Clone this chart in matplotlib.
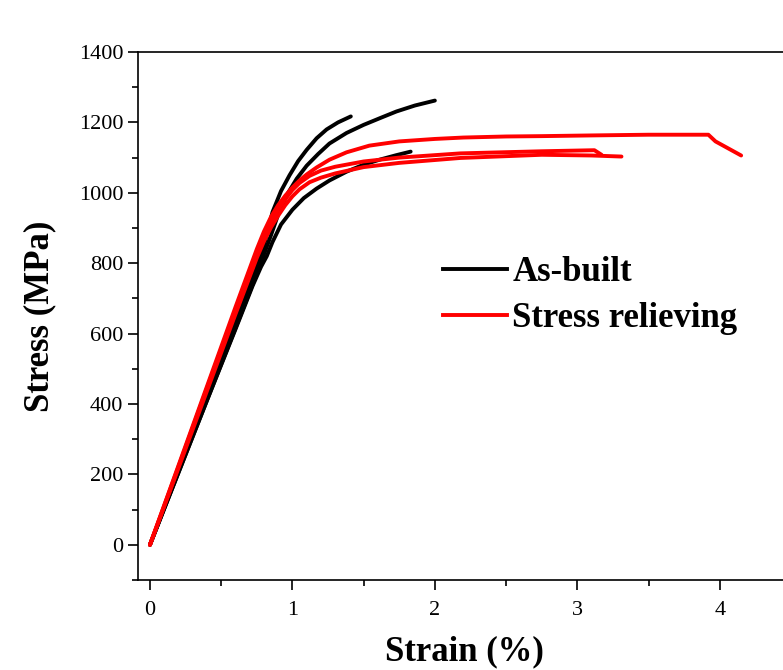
import matplotlib
matplotlib.use('Agg')
import matplotlib.pyplot as plt
from matplotlib.lines import Line2D

plt.rcParams['font.family'] = ['Liberation Serif', 'DejaVu Serif']

# as-built samples
ab1_strain = [0, 0.2, 0.4, 0.6, 0.75, 0.8, 0.86, 0.92, 0.98, 1.04, 1.1, 1.17, 1.24, 1.32, 1.41]
ab1_stress = [0, 210, 420, 630, 790, 850, 945, 1005, 1050, 1090, 1122, 1155, 1180, 1200, 1217]

ab2_strain = [0, 0.2, 0.4, 0.6, 0.75, 0.85, 0.91, 0.97, 1.03, 1.1, 1.18, 1.26, 1.38,
              1.5, 1.62, 1.73, 1.86, 2.0]
ab2_stress = [0, 205, 410, 615, 770, 880, 950, 1000, 1040, 1077, 1110, 1140, 1170,
              1193, 1213, 1231, 1248, 1262]

ab3_strain = [0, 0.2, 0.4, 0.6, 0.72, 0.78, 0.82, 0.86, 0.92, 1.0, 1.08, 1.17, 1.26,
              1.38, 1.5, 1.62, 1.73, 1.83]
ab3_stress = [0, 205, 410, 612, 735, 790, 820, 860, 910, 952, 985, 1012, 1035,
              1060, 1080, 1095, 1107, 1117]

# stress relieved samples
sr1_strain = [0, 0.2, 0.4, 0.6, 0.75, 0.8, 0.85, 0.9, 0.95, 1.0, 1.05, 1.1, 1.17, 1.26,
              1.38, 1.54, 1.75, 2.0, 2.2, 2.5, 2.75, 3.1, 3.5, 3.92, 3.97, 4.15]
sr1_stress = [0, 225, 450, 675, 840, 890, 932, 965, 992, 1015, 1035, 1052, 1072, 1094,
              1115, 1134, 1146, 1153, 1157, 1160, 1161, 1163, 1165, 1165, 1146, 1106]

sr2_strain = [0, 0.2, 0.4, 0.6, 0.75, 0.8, 0.85, 0.9, 0.95, 1.0, 1.05, 1.12, 1.2, 1.3,
              1.5, 1.75, 2.18, 2.75, 3.12, 3.17]
sr2_stress = [0, 222, 445, 665, 830, 878, 918, 952, 982, 1008, 1028, 1048, 1063, 1074,
              1089, 1100, 1112, 1118, 1121, 1108]

sr3_strain = [0, 0.2, 0.4, 0.6, 0.75, 0.8, 0.85, 0.9, 0.95, 1.0, 1.05, 1.12, 1.2, 1.3,
              1.5, 1.75, 2.18, 2.75, 3.1, 3.31]
sr3_stress = [0, 218, 437, 655, 815, 862, 902, 935, 965, 990, 1010, 1030, 1043, 1055,
              1073, 1085, 1099, 1108, 1106, 1103]

x_ticks = [0, 1, 2, 3, 4]
y_ticks = [0, 200, 400, 600, 800, 1000, 1200, 1400]

fig = plt.figure(figsize=(7.83, 6.70), dpi=100)
ax = fig.add_axes([138 / 783, 90 / 670, 653 / 783, 528 / 670])

lw = 2.8
for s, t in [(ab1_strain, ab1_stress), (ab2_strain, ab2_stress), (ab3_strain, ab3_stress)]:
    ax.plot(s, t, color='black', lw=lw, solid_capstyle='round', solid_joinstyle='round')
for s, t in [(sr1_strain, sr1_stress), (sr2_strain, sr2_stress), (sr3_strain, sr3_stress)]:
    ax.plot(s, t, color='#ff0000', lw=lw, solid_capstyle='round', solid_joinstyle='round')

ax.set_xlim(-0.084, 4.5)
ax.set_ylim(-100, 1400)
ax.set_xticks(x_ticks)
ax.set_yticks(y_ticks)
ax.set_xticks([0.5, 1.5, 2.5, 3.5], minor=True)
ax.set_yticks([-100, 100, 300, 500, 700, 900, 1100, 1300], minor=True)
ax.tick_params(which='both', direction='out', width=1.2, labelsize=16, top=False, right=False)
ax.tick_params(which='major', length=7)
ax.tick_params(which='minor', length=4)
ax.tick_params(axis='x', pad=8)
ax.spines['right'].set_visible(False)
for sp in ['left', 'bottom', 'top']:
    ax.spines[sp].set_linewidth(1.2)

ax.set_xlabel('Strain (%)', fontsize=25, fontweight='bold', labelpad=11)
ax.set_ylabel('Stress (MPa)', fontsize=25, fontweight='bold', labelpad=16)

handles = [Line2D([], [], color='black', lw=2.8), Line2D([], [], color='#ff0000', lw=2.8)]
leg = ax.legend(handles, ['As-built', 'Stress relieving'], loc='upper left',
                bbox_to_anchor=(443 / 783, 1 - 256 / 670), bbox_transform=fig.transFigure,
                frameon=False, borderpad=0, borderaxespad=0, handlelength=1.85,
                handletextpad=0.15, labelspacing=0.38,
                prop={'family': 'Liberation Serif', 'weight': 'bold', 'size': 25})

fig.savefig('out.png', dpi=100)
